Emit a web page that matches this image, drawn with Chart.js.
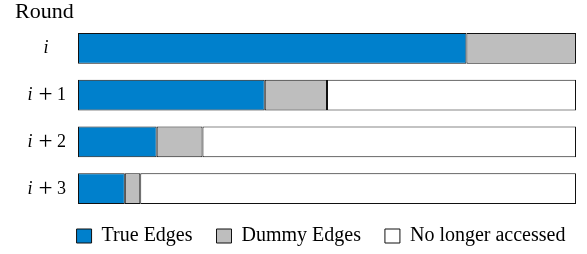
<!DOCTYPE html>
<html>
<head>
<meta charset="utf-8">
<script src="https://cdn.jsdelivr.net/npm/chart.js@4/dist/chart.umd.min.js"></script>
<style>
  html, body { margin: 0; padding: 0; background: #fff; }
  #wrap { width: 587px; height: 254px; }
</style>
</head>
<body>
<div id="wrap"><canvas id="chart"></canvas></div>
<script>
// rounds and share of the edge array per round
const rounds = ["i", "i + 1", "i + 2", "i + 3"];
const trueEdges = [0.78, 0.375, 0.158, 0.094];
const dummyEdges = [0.22, 0.125, 0.092, 0.031];
const noLonger = [0, 0.5, 0.75, 0.875];
const seriesNames = ["True Edges", "Dummy Edges", "No longer accessed"];

const FONT = "'Liberation Serif', 'Times New Roman', serif";

// round labels (italic i, upright rest) and the "Round" heading
const labelPlugin = {
  id: "roundLabels",
  beforeInit(chart) {
    const fit = chart.legend.fit;
    chart.legend.fit = function () {
      fit.call(this);
      this.height = 42;
    };
  },
  afterDraw(chart) {
    const ctx = chart.ctx;
    const y = chart.scales.y;
    ctx.save();
    ctx.fillStyle = "#000";
    ctx.textBaseline = "alphabetic";
    ctx.textAlign = "center";
    rounds.forEach((r, idx) => {
      const py = y.getPixelForValue(idx) + 5;
      const parts = r.split(" ");
      if (parts.length === 1) {
        ctx.font = "italic 18px " + FONT;
        ctx.fillText(parts[0], 46, py);
        return;
      }
      ctx.font = "italic 18px " + FONT;
      ctx.fillText(parts[0], 30, py);
      ctx.font = "25px " + FONT;
      ctx.fillText(parts[1], 45.5, py + 2);
      ctx.font = "18px " + FONT;
      ctx.fillText(parts[2], 61.5, py);
    });
    ctx.font = "22px " + FONT;
    ctx.textAlign = "left";
    ctx.fillText("Round", 15, 18);
    ctx.restore();
  },
};

new Chart(document.getElementById("chart"), {
  type: "bar",
  data: {
    labels: rounds,
    datasets: [
      {
        label: seriesNames[0],
        data: trueEdges,
        backgroundColor: "#0080cc",
        borderColor: "#111",
        borderWidth: 1,
      },
      {
        label: seriesNames[1],
        data: dummyEdges,
        backgroundColor: "#bebebe",
        borderColor: "#111",
        borderWidth: 1,
      },
      {
        label: seriesNames[2],
        data: noLonger,
        backgroundColor: "#ffffff",
        borderColor: "#111",
        borderWidth: 1,
      },
    ],
  },
  options: {
    indexAxis: "y",
    responsive: true,
    maintainAspectRatio: false,
    animation: false,
    layout: { padding: { left: 55, right: 0, top: 25, bottom: 0 } },
    datasets: {
      bar: { categoryPercentage: 1, barPercentage: 0.66, borderSkipped: false },
    },
    plugins: {
      legend: {
        position: "bottom",
        labels: {
          font: { family: FONT, size: 20 },
          color: "#000",
          boxWidth: 15,
          boxHeight: 14,
          padding: 14,
          generateLabels(chart) {
            const items = Chart.defaults.plugins.legend.labels.generateLabels(chart);
            items.forEach((it, k) => {
              if (k < items.length - 1) it.text += "\u2002";
            });
            return items;
          },
        },
      },
      tooltip: { enabled: false },
    },
    scales: {
      x: { stacked: true, min: 0, max: 1, display: false },
      y: {
        stacked: true,
        ticks: { display: false },
        grid: { display: false },
        border: { display: false },
        afterFit: (s) => { s.width = 23; },
      },
      y2: {
        type: "category",
        labels: rounds,
        position: "right",
        ticks: { display: false },
        grid: { display: false },
        border: { display: false },
        afterFit: (s) => { s.width = 11; },
      },
    },
  },
  plugins: [labelPlugin],
});
</script>
</body>
</html>
